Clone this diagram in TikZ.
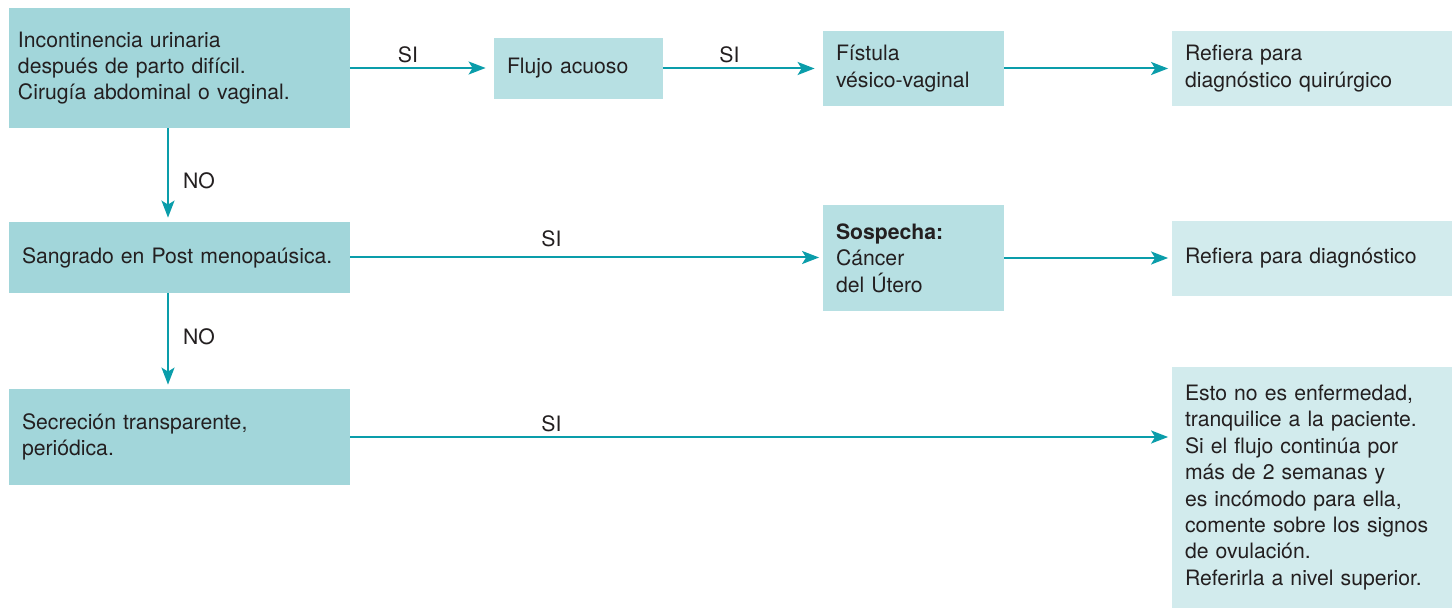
\documentclass[tikz,border=0pt]{standalone}
\usepackage{fontspec}
\setmainfont{TeX Gyre Heros}
\usepackage{xcolor}
\usetikzlibrary{arrows.meta}

\definecolor{boxdark}{HTML}{A2D6DA}
\definecolor{boxmid}{HTML}{B7E0E3}
\definecolor{boxlight}{HTML}{D2EBED}
\definecolor{flowteal}{HTML}{0A9DAA}
\definecolor{inkgray}{HTML}{231F20}

\begin{document}
\begin{tikzpicture}[x=0.5pt, y=-0.5pt,
  >={Stealth[length=8.5pt, width=6.5pt, inset=2pt]},
  box/.style={rectangle, inner xsep=6.5pt, inner ysep=0pt, align=left,
    text=inkgray, font=\fontsize{10.6}{13.2}\selectfont},
  flow/.style={->, line width=1pt, draw=flowteal, shorten >=1.75pt},
  lbl/.style={inner sep=0pt, text=inkgray, font=\fontsize{10.6}{13.2}\selectfont}]

\useasboundingbox (0,0) rectangle (1452,608);

% Left column (questions)
\node[box, fill=boxdark, inner xsep=4.5pt, text width=161.5pt, minimum height=60pt] (incont) at (179.5,68)
  {Incontinencia urinaria\\después de parto difícil.\\Cirugía abdominal o vaginal.};
\node[box, fill=boxdark, text width=157.5pt, minimum height=35.5pt] (sangrado) at (179.5,257.5)
  {Sangrado en Post menopaúsica.};
\node[box, fill=boxdark, text width=157.5pt, minimum height=48pt] (secrecion) at (179.5,437)
  {Secreción transparente,\\periódica.};

% Middle column (findings)
\node[box, fill=boxmid, text width=71.5pt, minimum height=30.5pt] (flujo) at (578.5,68.5)
  {Flujo acuoso};
\node[box, fill=boxmid, text width=77.5pt, minimum height=37.5pt] (fistula) at (913.5,68.5)
  {Fístula\\vésico-vaginal};
\node[box, fill=boxmid, text width=77.5pt, minimum height=53pt] (sospecha) at (913.5,258)
  {\textbf{Sospecha:}\\Cáncer\\del Útero};

% Right column (actions)
\node[box, fill=boxlight, text width=127pt, minimum height=37.5pt] (refiera1) at (1312,68.5)
  {Refiera para\\diagnóstico quirúrgico};
\node[box, fill=boxlight, text width=127pt, minimum height=37.5pt] (refiera2) at (1312,258.5)
  {Refiera para diagnóstico};
\node[box, fill=boxlight, text width=127pt, minimum height=120.5pt] (esto) at (1312,487.5)
  {Esto no es enfermedad,\\tranquilice a la paciente.\\Si el flujo continúa por\\más de 2 semanas y\\es incómodo para ella,\\comente sobre los signos\\de ovulación.\\Referirla a nivel superior.};

% SI connectors
\draw[flow, shorten >=4pt] (incont.east) -- (flujo.west |- incont.east);
\draw[flow, shorten >=4pt] (flujo.east) -- (fistula.west);
\draw[flow] (fistula.east) -- (refiera1.west);
\draw[flow] (sangrado.east) -- (sospecha.west |- sangrado.east);
\draw[flow] (sospecha.east) -- (refiera2.west |- sospecha.east);
\draw[flow] (secrecion.east) -- (esto.west |- secrecion.east);

% NO connectors
\coordinate (nocol) at (168,0);
\draw[flow, shorten >=2pt] (incont.south -| nocol) -- (sangrado.north -| nocol);
\draw[flow, shorten >=2pt] (sangrado.south -| nocol) -- (secrecion.north -| nocol);

% Labels
\node[lbl] (si1) at (408,55) {SI};
\node[lbl] (si2) at (729.5,55) {SI};
\node[lbl] (si3) at (551.5,239) {SI};
\node[lbl] (si4) at (551.5,424) {SI};
\node[lbl] (no1) at (199,181) {NO};
\node[lbl] (no2) at (199,337) {NO};

\end{tikzpicture}
\end{document}
